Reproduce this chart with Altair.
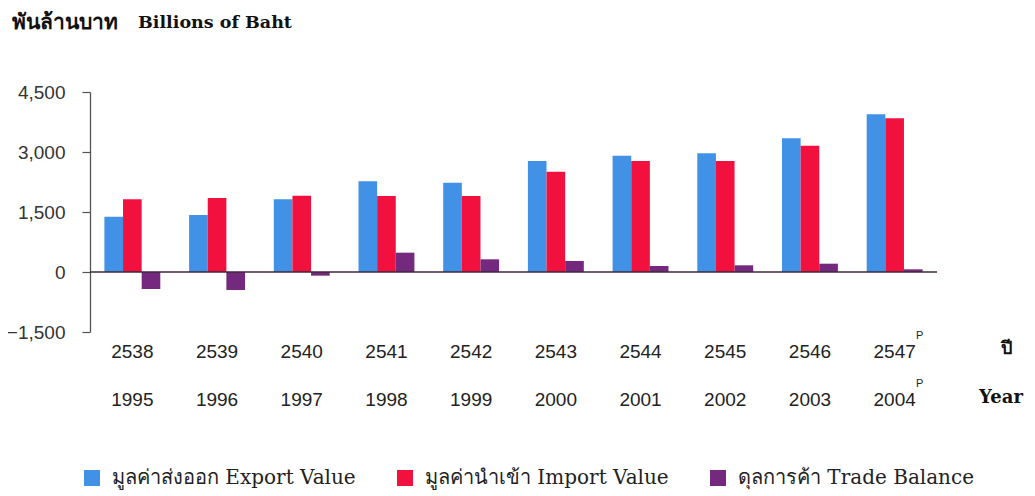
import altair as alt
import pandas as pd

years_ce = ["1995", "1996", "1997", "1998", "1999", "2000", "2001", "2002", "2003", "2004"]
years_be = ["2538", "2539", "2540", "2541", "2542", "2543", "2544", "2545", "2546", "2547"]
preliminary = [False, False, False, False, False, False, False, False, False, True]

export_value = [1383, 1425, 1817, 2267, 2233, 2775, 2908, 2967, 3342, 3942]
import_value = [1817, 1850, 1908, 1900, 1900, 2508, 2775, 2775, 3158, 3842]
trade_balance = [-425, -450, -92, 483, 317, 275, 150, 167, 208, 67]

series_names = ["มูลค่าส่งออก Export Value", "มูลค่านำเข้า Import Value", "ดุลการค้า Trade Balance"]
series_colors = ["#4192e6", "#f2103f", "#74287e"]

y_ticks = [-1500, 0, 1500, 3000, 4500]
title_parts = ["พันล้านบาท", "Billions of Baht"]
row_titles = ["ปี", "Year"]

rows = []
for i, y in enumerate(years_ce):
    for s, vals in zip(series_names, [export_value, import_value, trade_balance]):
        rows.append({"year_ce": y, "series": s, "value": vals[i]})
bars_df = pd.DataFrame(rows)

labels_df = pd.DataFrame({"year_ce": years_ce, "year_be": years_be, "prelim": preliminary})
prelim_df = labels_df[labels_df["prelim"]]

W, H = 847, 240

x_enc = alt.X("year_ce:N", sort=years_ce, axis=None,
              scale=alt.Scale(paddingInner=0.34, paddingOuter=0.17))

bars = alt.Chart(bars_df).mark_bar().encode(
    x=x_enc,
    xOffset=alt.XOffset("series:N", sort=series_names,
                        scale=alt.Scale(paddingInner=0, paddingOuter=0)),
    y=alt.Y("value:Q", scale=alt.Scale(domain=[-1500, 4500], nice=False),
            axis=alt.Axis(values=y_ticks, format=",.0f", title=None, grid=False,
                          labelFont="Liberation Sans", labelFontSize=19, labelColor="#333333",
                          labelPadding=17, tickSize=8, tickColor="#555555", tickWidth=1.2,
                          domainColor="#555555", domainWidth=1.3)),
    color=alt.Color("series:N", sort=series_names,
                    scale=alt.Scale(domain=series_names, range=series_colors),
                    legend=alt.Legend(orient="none", legendX=-8, legendY=376, title=None,
                                      direction="horizontal", columns=3, columnPadding=39,
                                      symbolType="square", symbolSize=256, symbolStrokeWidth=0,
                                      symbolOpacity=1, labelOffset=10,
                                      labelFont="DejaVu Serif", labelFontSize=20,
                                      labelColor="#222222", labelLimit=400)),
)

zero = alt.Chart(pd.DataFrame({"v": [0]})).mark_rule(color="#3a2a3a", strokeWidth=1.5).encode(
    y=alt.Y("v:Q")
)

text_style = dict(font="Liberation Sans", fontSize=19, color="#222222", baseline="middle")

row_be = alt.Chart(labels_df).mark_text(**text_style).encode(
    x=alt.X("year_ce:N", sort=years_ce), y=alt.value(260), text="year_be:N")
row_ce = alt.Chart(labels_df).mark_text(**text_style).encode(
    x=alt.X("year_ce:N", sort=years_ce), y=alt.value(308), text="year_ce:N")

sup_style = dict(font="Liberation Sans", fontSize=11, color="#222222", baseline="middle", dx=25)
sup_be = alt.Chart(prelim_df).mark_text(**sup_style).encode(
    x=alt.X("year_ce:N", sort=years_ce), y=alt.value(244), text=alt.value("P"))
sup_ce = alt.Chart(prelim_df).mark_text(**sup_style).encode(
    x=alt.X("year_ce:N", sort=years_ce), y=alt.value(292), text=alt.value("P"))

side_df = pd.DataFrame({"t": row_titles, "row": [0, 1]})
side_be = alt.Chart(side_df[side_df["row"] == 0]).mark_text(
    font="DejaVu Serif", fontSize=18, fontWeight="bold", color="#111111", baseline="middle"
).encode(x=alt.value(916), y=alt.value(257), text="t:N")
side_ce = alt.Chart(side_df[side_df["row"] == 1]).mark_text(
    font="DejaVu Serif", fontSize=18, fontWeight="bold", color="#111111", baseline="middle"
).encode(x=alt.value(911), y=alt.value(306), text="t:N")

title_df = pd.DataFrame({"t": title_parts, "part": [0, 1]})
title_th = alt.Chart(title_df[title_df["part"] == 0]).mark_text(
    font="DejaVu Serif", fontSize=21, fontWeight="bold", color="#111111",
    align="left", baseline="middle"
).encode(x=alt.value(-78), y=alt.value(-69), text="t:N")
title_en = alt.Chart(title_df[title_df["part"] == 1]).mark_text(
    font="DejaVu Serif", fontSize=17.5, fontWeight="bold", color="#111111",
    align="left", baseline="middle"
).encode(x=alt.value(48), y=alt.value(-69), text="t:N")

chart = alt.layer(bars, zero, row_be, row_ce, sup_be, sup_ce, side_be, side_ce,
                  title_th, title_en).properties(
    width=W, height=H,
    autosize=alt.AutoSizeParams(type="none"),
    padding={"left": 82, "top": 84, "right": 88, "bottom": 158},
).configure_view(stroke=None)

chart.save("out.html", embed_options={"renderer": "svg", "actions": False})
